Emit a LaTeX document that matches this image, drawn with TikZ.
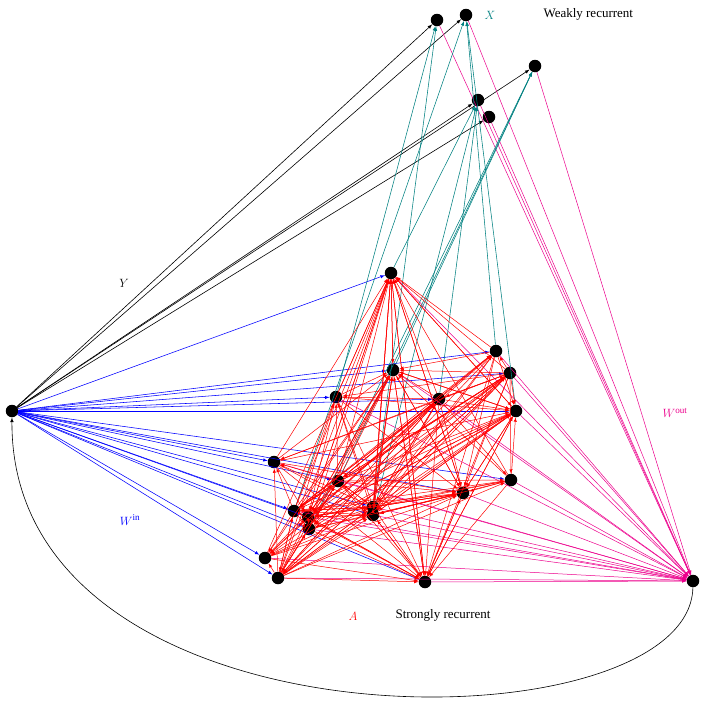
\documentclass[tikz,border=0pt]{standalone}
\usepackage{fontspec}
\setmainfont{Liberation Serif}
\begin{document}
\begin{tikzpicture}[x=1pt,y=-1pt,>=latex,
  v/.style={circle,fill=black,inner sep=0pt,minimum size=12.5pt},
  lab/.style={font=\fontsize{13}{15}\selectfont},
  red/.style={draw=red,->,line width=0.5pt},
  tl/.style={draw=teal,->,line width=0.55pt},
  mg/.style={draw=magenta,->,line width=0.5pt},
  bl/.style={draw=blue,->,line width=0.55pt},
  bk/.style={draw=black,->,line width=0.6pt}]
\useasboundingbox (0,0) rectangle (707,718);
\node[v] (in) at (12,411) {};
\node[v] (out) at (693,581) {};
\foreach \n/\x/\y in {1/437/20,2/466/15,3/535/66,4/478/100,5/489/117}
  \node[v] (w\n) at (\x,\y) {};
\foreach \n/\x/\y in {1/391/273,2/496/351,3/510/373,4/393/370,5/336/397,6/439/399,7/516/411,8/274/462,9/338/481,10/463/493,11/511/480,12/294/511,13/308/517,14/309/529,15/373/507,16/373/515,17/265/558,18/278/578,19/425/582}
  \node[v] (s\n) at (\x,\y) {};
% input edges
\foreach \n in {1,...,5} \draw[bk] (in) -- (w\n);
\foreach \n in {1,...,19} \draw[bl] (in) -- (s\n);
% to output
\foreach \n in {1,...,5} \draw[mg] (w\n) -- (out);
\foreach \n in {1,...,19} \draw[mg] (s\n) -- (out);
% strong to weak
\foreach \n in {1,2,4,5,6,7,9,12,14,15,16}{
  \pgfmathtruncatemacro{\a}{mod(\n*3,5)+1}
  \draw[tl] (s\n) -- (w\a);
}
% recurrent
\foreach \i in {1,...,19}{
  \foreach \j in {1,...,19}{
    \pgfmathtruncatemacro{\r}{mod(\i*5+\j*3+\i*\j,3)}
    \ifnum\i=\j\else\ifnum\r=0 \draw[red] (s\i) -- (s\j);\fi\fi
  }
}
% feedback arc
\draw[bk] (out) .. controls (690,750) and (10,760) .. (in);
\node[lab,text=teal] at (490,15) {$X$};
\node[lab,anchor=west] at (540,14) {Weakly recurrent};
\node[lab] at (124,283) {$Y$};
\node[lab,text=blue] at (130,520) {$W^{\mathrm{in}}$};
\node[lab,text=red] at (353,616) {$A$};
\node[lab,anchor=west] at (392,615) {Strongly recurrent};
\node[lab,text=magenta] at (675,413) {$W^{\mathrm{out}}$};
\end{tikzpicture}
\end{document}
